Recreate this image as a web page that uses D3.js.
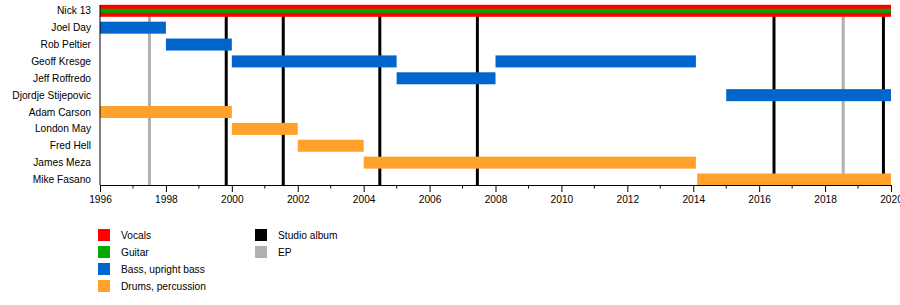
<!DOCTYPE html>
<html>
<head>
<meta charset="utf-8">
<script src="https://cdn.jsdelivr.net/npm/d3@7"></script>
<style>
  body { margin: 0; background: #fff; }
  text { font-family: "Liberation Sans", Arial, sans-serif; font-size: 10.2px; fill: #000; }
</style>
</head>
<body>
<div id="chart"></div>
<script>
// Members, top to bottom
const members = ["Nick 13", "Joel Day", "Rob Peltier", "Geoff Kresge", "Jeff Roffredo",
  "Djordje Stijepovic", "Adam Carson", "London May", "Fred Hell", "James Meza", "Mike Fasano"];

// Tenures as decimal years
const vocals = [{ name: "Nick 13", from: 1996, to: 2020 }];
const guitar = [{ name: "Nick 13", from: 1996, to: 2020 }];
const bass = [
  { name: "Joel Day", from: 1996, to: 1998 },
  { name: "Rob Peltier", from: 1998, to: 2000 },
  { name: "Geoff Kresge", from: 2000, to: 2005 },
  { name: "Jeff Roffredo", from: 2005, to: 2008 },
  { name: "Geoff Kresge", from: 2008, to: 2014.08 },
  { name: "Djordje Stijepovic", from: 2015, to: 2020 }
];
const drums = [
  { name: "Adam Carson", from: 1996, to: 2000 },
  { name: "London May", from: 2000, to: 2002 },
  { name: "Fred Hell", from: 2002, to: 2004 },
  { name: "James Meza", from: 2004, to: 2014.08 },
  { name: "Mike Fasano", from: 2014.12, to: 2020 }
];

// Release dates
const studioAlbums = [1999.83, 2001.56, 2004.49, 2007.45, 2016.45, 2019.77];
const eps = [1997.5, 2018.55];

const tickYears = d3.range(1996, 2021, 2);
const minorYears = d3.range(1996, 2021, 1);

const colors = {
  vocals: "#ff0000",
  guitar: "#00a800",
  bass: "#0066cc",
  drums: "#ffa12b",
  studio: "#000000",
  ep: "#b0b0b0"
};

const width = 900, height = 305;
const svg = d3.select("#chart").append("svg")
  .attr("width", width)
  .attr("height", height);

const x = d3.scaleLinear().domain([1996, 2020]).range([100, 891]);
const y = d3.scalePoint().domain(members).range([10.8, 179.5]);
const axisY = 185;
const barH = 12;

// Release lines
svg.selectAll("line.ep").data(eps).enter().append("line")
  .attr("x1", d => x(d)).attr("x2", d => x(d))
  .attr("y1", 5).attr("y2", axisY)
  .attr("stroke", colors.ep).attr("stroke-width", 3);
svg.selectAll("line.studio").data(studioAlbums).enter().append("line")
  .attr("x1", d => x(d)).attr("x2", d => x(d))
  .attr("y1", 5).attr("y2", axisY)
  .attr("stroke", colors.studio).attr("stroke-width", 3);

// Bars
function drawBars(data, color, h) {
  svg.append("g").selectAll("rect").data(data).enter().append("rect")
    .attr("x", d => x(d.from))
    .attr("width", d => x(d.to) - x(d.from))
    .attr("y", d => y(d.name) - h / 2)
    .attr("height", h)
    .attr("fill", color);
}
drawBars(vocals, colors.vocals, barH);
drawBars(guitar, colors.guitar, 4);
drawBars(bass, colors.bass, barH);
drawBars(drums, colors.drums, barH);

// Member labels
svg.append("g").selectAll("text").data(members).enter().append("text")
  .attr("x", 91)
  .attr("y", d => y(d))
  .attr("dy", "0.35em")
  .attr("text-anchor", "end")
  .text(d => d);

// Left axis line
svg.append("line")
  .attr("x1", 100).attr("x2", 100)
  .attr("y1", 5).attr("y2", axisY)
  .attr("stroke", "#000");

// Bottom axis
const axis = svg.append("g")
  .attr("transform", `translate(0,${axisY})`)
  .call(d3.axisBottom(x).tickValues(tickYears).tickFormat(d3.format("d")).tickSize(7).tickSizeOuter(0));
axis.select(".domain").attr("stroke", "#000");
axis.selectAll("text").attr("font-size", 10.2).attr("font-family", null).attr("dy", "0.9em").attr("y", 9);
svg.append("g").attr("transform", `translate(0,${axisY})`)
  .selectAll("line").data(minorYears.filter(d => d % 2)).enter().append("line")
  .attr("x1", d => x(d)).attr("x2", d => x(d))
  .attr("y1", 0).attr("y2", 3.5)
  .attr("stroke", "#000");

// Legend
const legend1 = [
  { label: "Vocals", color: colors.vocals },
  { label: "Guitar", color: colors.guitar },
  { label: "Bass, upright bass", color: colors.bass },
  { label: "Drums, percussion", color: colors.drums }
];
const legend2 = [
  { label: "Studio album", color: colors.studio },
  { label: "EP", color: colors.ep }
];
function drawLegend(items, lx) {
  const g = svg.append("g").selectAll("g").data(items).enter().append("g")
    .attr("transform", (d, i) => `translate(${lx},${235 + i * 17})`);
  g.append("rect").attr("x", 0).attr("y", -6).attr("width", 12).attr("height", 12)
    .attr("fill", d => d.color);
  g.append("text").attr("x", 23).attr("dy", "0.35em").text(d => d.label);
}
drawLegend(legend1, 98);
drawLegend(legend2, 255);
</script>
</body>
</html>
